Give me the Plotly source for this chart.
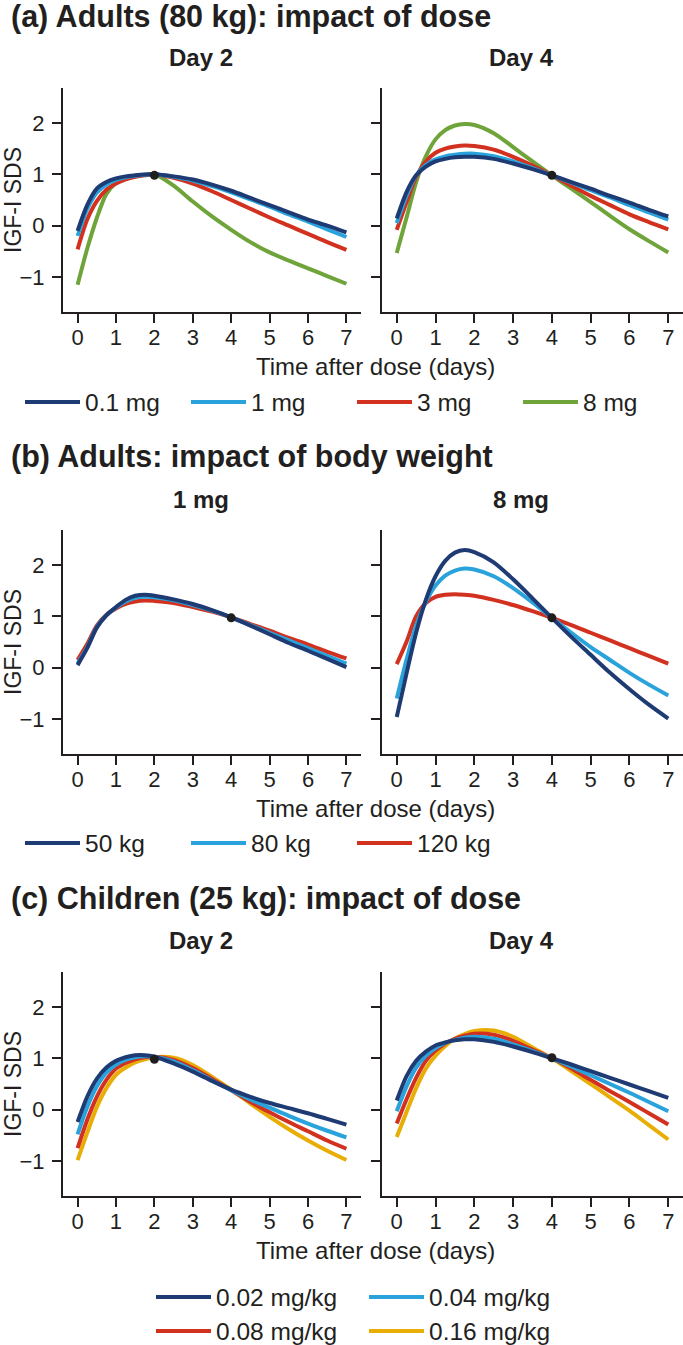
import plotly.graph_objects as go

W, H = 683, 1345

# ---------------- data ----------------
t = [0, 0.25, 0.5, 0.75, 1, 1.25, 1.5, 1.75, 2, 2.5, 3, 3.5, 4, 4.5, 5, 5.5, 6, 6.5, 7]

# (a) Adults (80 kg): impact of dose
a_names = ["0.1 mg", "1 mg", "3 mg", "8 mg"]
a_day2 = {
    "0.1 mg": [-0.10, 0.40, 0.72, 0.85, 0.92, 0.96, 0.98, 0.995, 1.00, 0.96, 0.90, 0.80, 0.68, 0.54, 0.40, 0.26, 0.12, 0.00, -0.13],
    "1 mg":   [-0.20, 0.32, 0.64, 0.80, 0.89, 0.94, 0.97, 0.99, 1.00, 0.95, 0.88, 0.77, 0.65, 0.51, 0.37, 0.22, 0.08, -0.07, -0.22],
    "3 mg":   [-0.46, 0.12, 0.48, 0.70, 0.82, 0.90, 0.95, 0.98, 1.00, 0.93, 0.82, 0.67, 0.50, 0.33, 0.16, 0.00, -0.16, -0.32, -0.47],
    "8 mg":   [-1.15, -0.45, 0.15, 0.62, 0.83, 0.91, 0.96, 0.99, 1.00, 0.78, 0.47, 0.18, -0.08, -0.32, -0.52, -0.68, -0.83, -0.98, -1.13],
}
a_day4 = {
    "0.1 mg": [0.14, 0.65, 0.98, 1.15, 1.25, 1.30, 1.33, 1.34, 1.34, 1.30, 1.21, 1.10, 0.98, 0.85, 0.72, 0.58, 0.45, 0.31, 0.18],
    "1 mg":   [0.05, 0.58, 0.98, 1.18, 1.29, 1.35, 1.38, 1.40, 1.40, 1.35, 1.25, 1.12, 0.98, 0.84, 0.69, 0.55, 0.40, 0.26, 0.12],
    "3 mg":   [-0.08, 0.45, 0.95, 1.25, 1.42, 1.50, 1.54, 1.56, 1.55, 1.48, 1.34, 1.17, 0.98, 0.78, 0.58, 0.40, 0.22, 0.07, -0.07],
    "8 mg":   [-0.53, 0.15, 0.85, 1.35, 1.68, 1.86, 1.95, 1.98, 1.96, 1.80, 1.53, 1.25, 0.98, 0.72, 0.46, 0.19, -0.07, -0.30, -0.52],
}

# (b) Adults: impact of body weight
b_names = ["50 kg", "80 kg", "120 kg"]
b_1mg = {
    "50 kg":  [0.05, 0.38, 0.78, 1.02, 1.18, 1.32, 1.40, 1.42, 1.40, 1.33, 1.24, 1.12, 0.98, 0.82, 0.65, 0.48, 0.33, 0.17, 0.01],
    "80 kg":  [0.08, 0.40, 0.79, 1.02, 1.17, 1.29, 1.36, 1.38, 1.37, 1.31, 1.22, 1.11, 0.98, 0.83, 0.68, 0.53, 0.38, 0.23, 0.08],
    "120 kg": [0.15, 0.46, 0.82, 1.03, 1.15, 1.24, 1.29, 1.31, 1.30, 1.26, 1.18, 1.09, 0.98, 0.85, 0.72, 0.58, 0.45, 0.31, 0.18],
}
b_8mg = {
    "50 kg":  [-0.96, -0.12, 0.68, 1.32, 1.78, 2.08, 2.24, 2.29, 2.25, 2.05, 1.72, 1.35, 0.97, 0.60, 0.25, -0.10, -0.42, -0.72, -0.99],
    "80 kg":  [-0.60, 0.15, 0.82, 1.28, 1.60, 1.79, 1.89, 1.93, 1.91, 1.78, 1.55, 1.27, 0.97, 0.68, 0.40, 0.15, -0.10, -0.33, -0.54],
    "120 kg": [0.07, 0.50, 1.00, 1.26, 1.38, 1.42, 1.43, 1.42, 1.40, 1.32, 1.22, 1.10, 0.97, 0.83, 0.68, 0.53, 0.38, 0.23, 0.08],
}

# (c) Children (25 kg): impact of dose
c_names = ["0.02 mg/kg", "0.04 mg/kg", "0.08 mg/kg", "0.16 mg/kg"]
c_day2 = {
    "0.02 mg/kg": [-0.24, 0.25, 0.60, 0.82, 0.95, 1.02, 1.06, 1.06, 1.03, 0.90, 0.74, 0.56, 0.39, 0.25, 0.13, 0.03, -0.07, -0.18, -0.29],
    "0.04 mg/kg": [-0.48, 0.05, 0.45, 0.72, 0.88, 0.97, 1.02, 1.04, 1.03, 0.94, 0.77, 0.57, 0.38, 0.20, 0.04, -0.12, -0.27, -0.41, -0.54],
    "0.08 mg/kg": [-0.75, -0.20, 0.25, 0.58, 0.80, 0.91, 0.98, 1.02, 1.03, 0.97, 0.81, 0.60, 0.38, 0.15, -0.05, -0.24, -0.42, -0.60, -0.76],
    "0.16 mg/kg": [-0.98, -0.45, 0.05, 0.42, 0.68, 0.82, 0.92, 0.98, 1.02, 1.01, 0.87, 0.64, 0.39, 0.12, -0.14, -0.38, -0.60, -0.80, -0.98],
}
c_day4 = {
    "0.02 mg/kg": [0.18, 0.65, 0.95, 1.13, 1.25, 1.31, 1.35, 1.37, 1.37, 1.32, 1.23, 1.12, 1.00, 0.88, 0.75, 0.62, 0.49, 0.36, 0.23],
    "0.04 mg/kg": [-0.03, 0.45, 0.82, 1.05, 1.20, 1.30, 1.36, 1.40, 1.42, 1.38, 1.27, 1.14, 1.00, 0.84, 0.67, 0.50, 0.33, 0.15, -0.03],
    "0.08 mg/kg": [-0.27, 0.20, 0.62, 0.95, 1.15, 1.29, 1.38, 1.44, 1.48, 1.46, 1.34, 1.17, 1.00, 0.80, 0.58, 0.36, 0.15, -0.07, -0.29],
    "0.16 mg/kg": [-0.53, -0.05, 0.42, 0.80, 1.05, 1.24, 1.38, 1.47, 1.53, 1.54, 1.42, 1.21, 1.00, 0.75, 0.50, 0.24, -0.02, -0.30, -0.58],
}

# reference points (black dots)
dot_x = [2, 4, 4, 4, 2, 4]
dot_y = [0.98, 0.98, 0.97, 0.97, 0.98, 1.01]

x_ticks = [0, 1, 2, 3, 4, 5, 6, 7]
y_ticks = [-1, 0, 1, 2]

section_titles = ["(a) Adults (80 kg): impact of dose",
                  "(b) Adults: impact of body weight",
                  "(c) Children (25 kg): impact of dose"]
panel_titles = [["Day 2", "Day 4"], ["1 mg", "8 mg"], ["Day 2", "Day 4"]]
x_title = "Time after dose (days)"
y_title = "IGF-I SDS"

# ---------------- styling ----------------
NAVY, SKY, RED, GREEN, GOLD = "#1f3b73", "#2aa2db", "#d2311f", "#6fa43a", "#e8ae06"
a_colors = [NAVY, SKY, RED, GREEN]
b_colors = [NAVY, SKY, RED]
c_colors = [NAVY, SKY, RED, GOLD]

FONT = "Liberation Sans, Arial, sans-serif"
INK = "#231f20"

def px_x(p):
    return p / W

def px_y(p):
    return 1 - p / H

col_dom = [[px_x(63), px_x(361)], [px_x(382), 1.0]]
row_top = [88, 530, 972]
row_h = 224

title_y = [17, 457, 898]
sub_y = [58, 500, 940]
xt_y = [367, 808, 1250]

fig = go.Figure()

rows = [
    (a_names, a_colors, [a_day2, a_day4], ["legend"] * 4),
    (b_names, b_colors, [b_1mg, b_8mg], ["legend2"] * 3),
    (c_names, c_colors, [c_day2, c_day4], ["legend3", "legend3", "legend4", "legend4"]),
]

k = 0
for r, (names, colors, panels, legs) in enumerate(rows):
    for c, pdata in enumerate(panels):
        k += 1
        xa = "x" if k == 1 else f"x{k}"
        ya = "y" if k == 1 else f"y{k}"
        n = len(names)
        # draw last series first so the first one sits on top
        for i in reversed(range(n)):
            nm = names[i]
            fig.add_trace(go.Scatter(
                x=t, y=pdata[nm], mode="lines", name=nm,
                line=dict(color=colors[i], width=4, shape="spline", smoothing=0.8),
                xaxis=xa, yaxis=ya, legend=legs[i], legendrank=i + 1,
                showlegend=(c == 0), hoverinfo="skip"))
        fig.add_trace(go.Scatter(
            x=[dot_x[k - 1]], y=[dot_y[k - 1]], mode="markers",
            marker=dict(color="#1e1e1e", size=9), showlegend=False,
            xaxis=xa, yaxis=ya, hoverinfo="skip"))

        top = row_top[r]
        axis_common = dict(showline=True, linecolor=INK, linewidth=2,
                           ticks="outside", ticklen=9, tickwidth=2, tickcolor=INK,
                           showgrid=False, zeroline=False, automargin=False,
                           tickfont=dict(family=FONT, size=22, color=INK))
        fig.layout[f"xaxis{k if k > 1 else ''}"] = dict(
            axis_common, domain=col_dom[c], range=[-0.38, 7.38],
            tickvals=x_ticks, anchor=ya, ticklabelstandoff=-4)
        fig.layout[f"yaxis{k if k > 1 else ''}"] = dict(
            axis_common, domain=[px_y(top + row_h), px_y(top)], range=[-1.68, 2.68],
            tickvals=y_ticks, anchor=xa, showticklabels=(c == 0), ticklabelstandoff=3)

annotations = []
for r in range(3):
    off = 442 * r
    annotations.append(dict(text=f"<b>{section_titles[r]}</b>", x=px_x(9), y=px_y(title_y[r]),
                            xref="paper", yref="paper",
                            xanchor="left", yanchor="middle", showarrow=False,
                            font=dict(family=FONT, size=30.5, color=INK)))
    for c, cx in enumerate([201, 521]):
        annotations.append(dict(text=f"<b>{panel_titles[r][c]}</b>", x=px_x(cx), y=px_y(sub_y[r]),
                                xref="paper", yref="paper",
                                xanchor="center", yanchor="middle", showarrow=False,
                                font=dict(family=FONT, size=24, color=INK)))
    annotations.append(dict(text=x_title, x=px_x(375), y=px_y(xt_y[r]),
                            xref="paper", yref="paper",
                            xanchor="center", yanchor="middle", showarrow=False,
                            font=dict(family=FONT, size=24, color=INK)))
    annotations.append(dict(text=y_title, x=px_x(13), y=px_y(200 + off), textangle=-90,
                            xref="paper", yref="paper",
                            xanchor="center", yanchor="middle", showarrow=False,
                            font=dict(family=FONT, size=23, color=INK)))

leg_common = dict(orientation="h", bgcolor="rgba(0,0,0,0)", borderwidth=0,
                  font=dict(family=FONT, size=24.5, color=INK), itemwidth=55,
                  xanchor="left", yanchor="middle", entrywidthmode="pixels")

fig.update_layout(
    template="none",
    width=W, height=H, margin=dict(l=0, r=0, t=0, b=0, autoexpand=False),
    paper_bgcolor="white", plot_bgcolor="white",
    font=dict(family=FONT, color=INK),
    annotations=annotations,
    legend=dict(leg_common, x=px_x(20), y=px_y(402), entrywidth=96),
    legend2=dict(leg_common, x=px_x(20), y=px_y(843), entrywidth=96),
    legend3=dict(leg_common, x=px_x(151), y=px_y(1297), entrywidth=143),
    legend4=dict(leg_common, x=px_x(151), y=px_y(1331), entrywidth=143),
)

fig.write_html("out.html", config={"displayModeBar": False},
               post_script="document.body.style.margin='0px';")
